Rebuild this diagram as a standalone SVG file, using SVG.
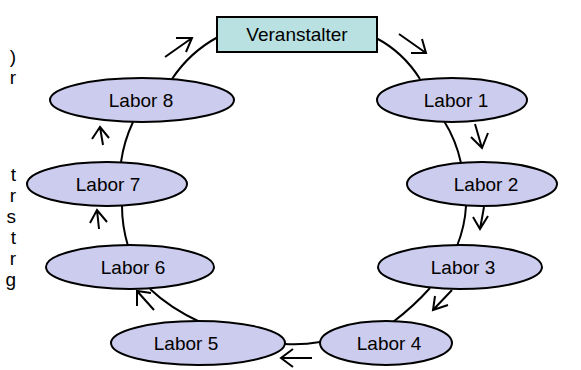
<svg xmlns="http://www.w3.org/2000/svg" width="581" height="370" viewBox="0 0 581 370">
<style>
.n ellipse{fill:#ccccee;stroke:#000;stroke-width:2}
.n rect{fill:#b9e1e1;stroke:#000;stroke-width:2}
text{font-family:"Liberation Sans",Arial,sans-serif;font-size:19px;fill:#000}
.t{text-anchor:middle}
.side{text-anchor:end}
.c path{fill:none;stroke:#000;stroke-width:2}
.a path{fill:none;stroke:#000;stroke-width:2}
</style>
<rect width="581" height="370" fill="#fff"/>
<g id="side-text">
<text class="side" x="16" y="63">)</text>
<text class="side" x="16" y="84">r</text>
<text class="side" x="16" y="181">t</text>
<text class="side" x="16" y="202">r</text>
<text class="side" x="16" y="223">s</text>
<text class="side" x="16" y="244">t</text>
<text class="side" x="16" y="265">r</text>
<text class="side" x="16" y="286">g</text>
</g>
<g id="connectors" class="c">
<path d="M218,37 Q190,52 172,79"/>
<path d="M376,38 Q403,52 420,79"/>
<path d="M444,121 Q456,140 461,163"/>
<path d="M466,206 Q465,226 457,246"/>
<path d="M430,288 Q414,306 393,322"/>
<path d="M320,342 Q303,345 285,344"/>
<path d="M200,322 Q170,308 150,289"/>
<path d="M128,246 Q122,226 122,206"/>
<path d="M121,162 Q124,141 133,122"/>
</g>
<g id="arrows" class="a">
<path d="M165,57 L192,38 M176,38 L192,38 L186,52"/>
<path d="M399,34 L426,53 M411,53 L426,53 L422,39"/>
<path d="M475,124 L482,148 M471,137 L482,148 L488,133"/>
<path d="M484,207 L480,229 M473,217 L480,229 L488,216"/>
<path d="M452,290 L433,310 M435,296 L433,310 L448,305"/>
<path d="M312,358 L281,358 M293,349 L281,358 L293,367"/>
<path d="M154,310 L137,291 M137,306 L137,291 L151,293"/>
<path d="M99,229 L97,210 M90,223 L97,210 L107,222"/>
<path d="M103,145 L100,127 M92,139 L100,127 L109,138"/>
</g>
<g id="veranstalter" class="n"><rect x="217" y="17" width="160" height="35"/><text class="t" x="297" y="41">Veranstalter</text></g>
<g id="labor1" class="n"><ellipse cx="452" cy="100" rx="75" ry="22"/><text class="t" x="456" y="107">Labor 1</text></g>
<g id="labor2" class="n"><ellipse cx="482" cy="184" rx="75" ry="22"/><text class="t" x="486" y="191">Labor 2</text></g>
<g id="labor3" class="n"><ellipse cx="460" cy="267" rx="82" ry="22"/><text class="t" x="463" y="274">Labor 3</text></g>
<g id="labor4" class="n"><ellipse cx="386" cy="343" rx="66" ry="22"/><text class="t" x="389" y="350">Labor 4</text></g>
<g id="labor5" class="n"><ellipse cx="198" cy="343" rx="87" ry="22"/><text class="t" x="186" y="350">Labor 5</text></g>
<g id="labor6" class="n"><ellipse cx="130" cy="267" rx="84" ry="22"/><text class="t" x="133" y="274">Labor 6</text></g>
<g id="labor7" class="n"><ellipse cx="107" cy="184" rx="80" ry="22"/><text class="t" x="108" y="191">Labor 7</text></g>
<g id="labor8" class="n"><ellipse cx="142" cy="100" rx="92" ry="22"/><text class="t" x="141" y="107">Labor 8</text></g>
</svg>
